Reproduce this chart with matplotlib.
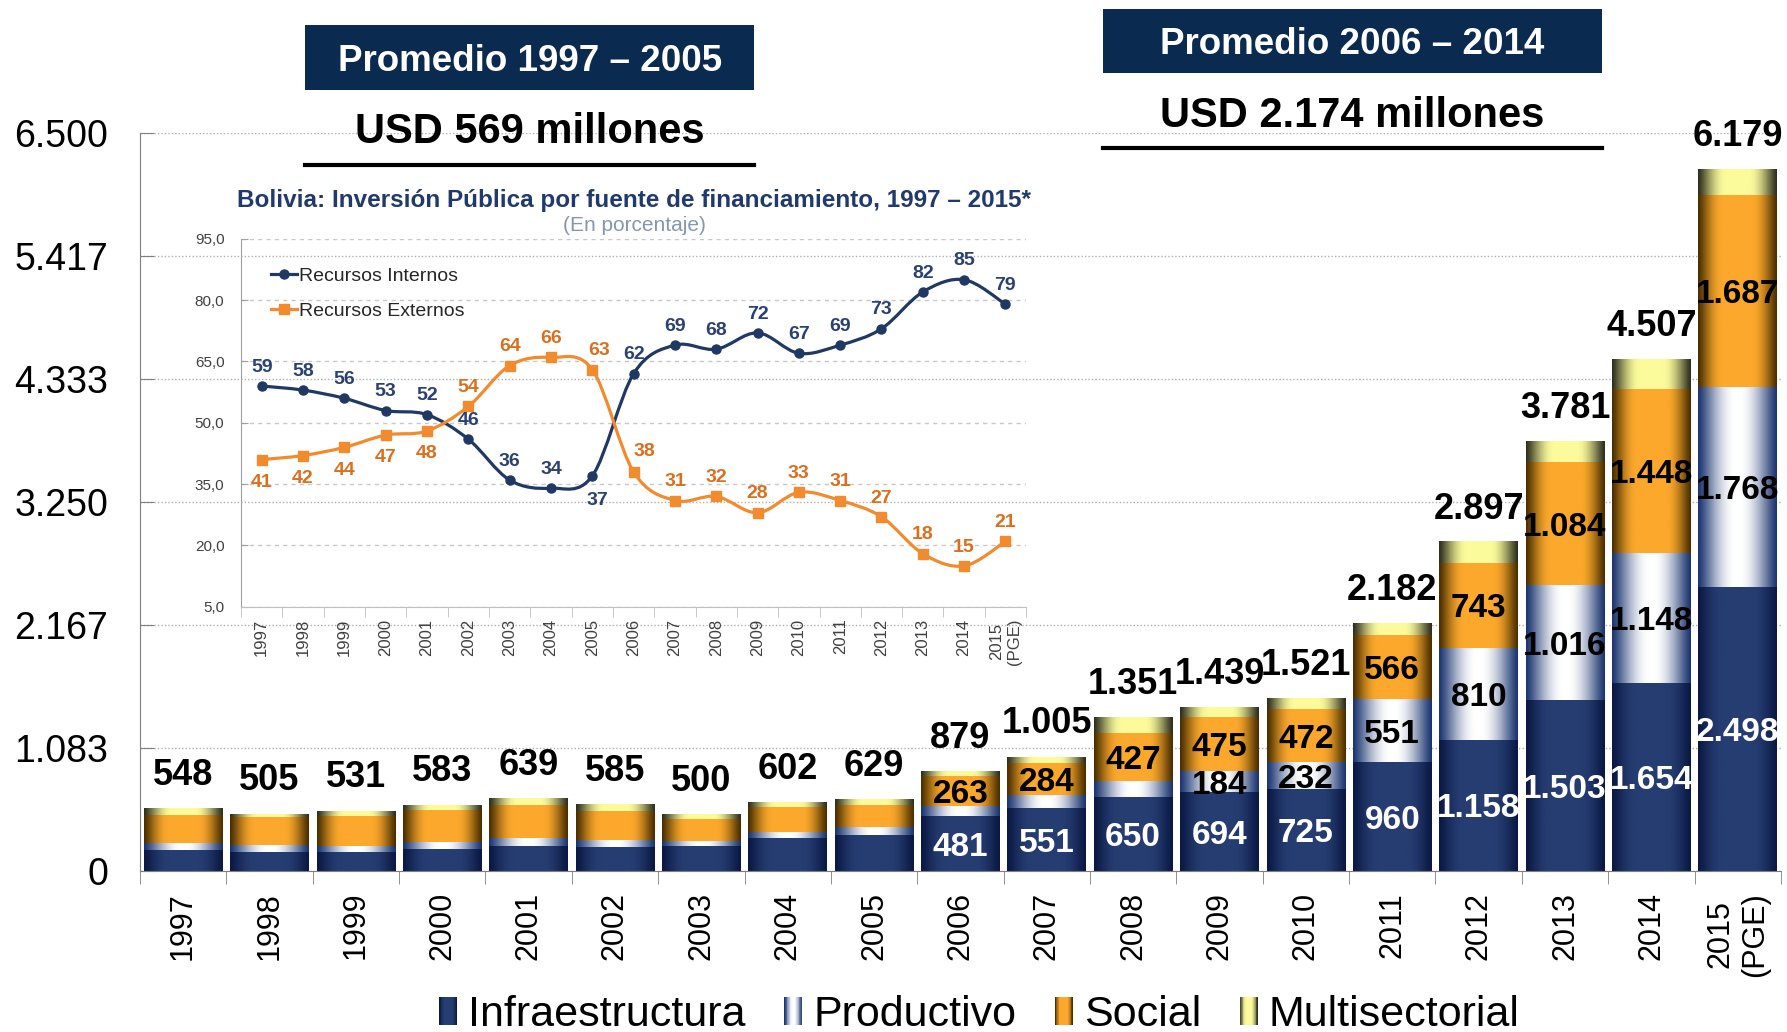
import numpy as np
import matplotlib
matplotlib.use('Agg')
import matplotlib.pyplot as plt
from matplotlib.patches import Rectangle, PathPatch
from matplotlib.path import Path
from matplotlib.colors import to_rgb
from matplotlib.legend_handler import HandlerBase
from matplotlib.lines import Line2D

plt.rcParams['font.family'] = ['Liberation Sans', 'DejaVu Sans']

# ---------------- data ----------------
years = ['1997', '1998', '1999', '2000', '2001', '2002', '2003', '2004', '2005',
         '2006', '2007', '2008', '2009', '2010', '2011', '2012', '2013', '2014',
         '2015\n(PGE)']
infra = [185, 168, 168, 194, 221, 212, 221, 291, 318, 481, 551, 650, 694, 725,
         960, 1158, 1503, 1654, 2498]
productivo = [62, 61, 53, 62, 70, 62, 44, 53, 70, 93, 120, 139, 184, 232, 551,
              810, 1016, 1148, 1768]
social = [247, 250, 267, 285, 292, 256, 194, 221, 195, 263, 284, 427, 475, 472,
          566, 743, 1084, 1448, 1687]
multi = [54, 26, 43, 42, 56, 55, 41, 37, 46, 42, 50, 135, 86, 92, 105, 186, 178,
         257, 226]
totals = [548, 505, 531, 583, 639, 585, 500, 602, 629, 879, 1005, 1351, 1439,
          1521, 2182, 2897, 3781, 4507, 6179]
# which segment values are printed (first year index with a label)
infra_label_from = 9
prod_label_from = 12
social_label_from = 9

ytick_vals = [0, 1083, 2167, 3250, 4333, 5417, 6500]
ytick_labels = ['0', '1.083', '2.167', '3.250', '4.333', '5.417', '6.500']

series_names = ['Infraestructura', 'Productivo', 'Social', 'Multisectorial']

# inset data
inset_years = years
internos = [59, 58, 56, 53, 52, 46, 36, 34, 37, 62, 69, 68, 72, 67, 69, 73, 82, 85, 79]
externos = [41, 42, 44, 47, 48, 54, 64, 66, 63, 38, 31, 32, 28, 33, 31, 27, 18, 15, 21]
inset_yticks = [5, 20, 35, 50, 65, 80, 95]
inset_ylabels = ['5,0', '20,0', '35,0', '50,0', '65,0', '80,0', '95,0']

# ---------------- styles ----------------
grad_cols = {
    'Infraestructura': ('#0A1842', '#263D72', 0.62),
    'Productivo': ('#1B3570', '#FFFFFF', 0.95),
    'Social': ('#4A2F00', '#FBA82C', 0.62),
    'Multisectorial': ('#2E2E1E', '#FBFB9C', 0.7),
}


def gradient(dark, light, plateau, n=128):
    t = np.linspace(0, 1, n)
    f = 1 - np.abs(2 * t - 1)
    f = np.clip(f / plateau, 0, 1)
    f = np.sin(f * np.pi / 2) ** 1.2
    d = np.array(to_rgb(dark))
    l = np.array(to_rgb(light))
    return d + (l - d) * f[:, None]


def fmt(v):
    return f"{v:,}".replace(',', '.')


W, H = 1787, 1032
fig = plt.figure(figsize=(W / 100, H / 100), dpi=100)

# ---------------- main axes ----------------
ax = fig.add_axes([0.0783, 0.156, 0.9183, 0.715])
x = np.arange(len(years))
bw = 0.91
bottoms = np.zeros(len(years))
stacks = [infra, productivo, social, multi]
for name, vals in zip(series_names, stacks):
    c = ax.bar(x, vals, bw, bottom=bottoms, color=grad_cols[name][1],
               edgecolor='none', zorder=2)
    g = gradient(*grad_cols[name])
    for p in c.patches:
        x0, y0 = p.get_xy()
        w, h = p.get_width(), p.get_height()
        ax.imshow(g[None, :, :], extent=(x0, x0 + w, y0, y0 + h), aspect='auto',
                  interpolation='bilinear', zorder=2.5)
    bottoms = bottoms + np.array(vals)


def seg_labels(vals, base, start, color):
    for i in range(start, len(vals)):
        ax.text(x[i], base[i] + vals[i] / 2, fmt(vals[i]), ha='center',
                va='center_baseline', fontsize=24, fontweight='bold', color=color,
                zorder=4)


base0 = np.zeros(len(years))
base1 = base0 + np.array(infra)
base2 = base1 + np.array(productivo)
seg_labels(infra, base0, infra_label_from, 'white')
seg_labels(productivo, base1, prod_label_from, 'black')
seg_labels(social, base2, social_label_from, 'black')

for i, t in enumerate(totals):
    ax.annotate(fmt(t), (x[i], t), xytext=(0, 17), textcoords='offset points',
                ha='center', va='baseline', fontsize=26, fontweight='bold',
                color='black', zorder=4)

ax.set_xlim(-0.5, len(years) - 0.5)
ax.set_ylim(0, 6500)
ax.set_yticks(ytick_vals)
ax.set_yticklabels(ytick_labels)
ax.set_xticks(x)
ax.set_xticklabels(years, rotation=90)
ax.set_xticks(np.arange(-0.5, len(years), 1), minor=True)
ax.tick_params(axis='x', which='major', length=0, pad=15, labelsize=22)
ax.tick_params(axis='x', which='minor', length=9, direction='out', color='#7F7F7F')
ax.tick_params(axis='y', direction='in', length=10, pad=23, labelsize=27,
               color='#7F7F7F')
ax.yaxis.grid(True, linestyle=(0, (1, 1.5)), color='#B0B0B0', linewidth=1)
ax.set_axisbelow(True)
for s in ['top', 'right']:
    ax.spines[s].set_visible(False)
ax.spines['left'].set_color('#7F7F7F')
ax.spines['bottom'].set_color('#7F7F7F')
ax.patch.set_alpha(0)


# ---------------- legend ----------------
class GradHandler(HandlerBase):
    def __init__(self, dark, light, plateau):
        super().__init__()
        self.cols = gradient(dark, light, plateau, 24)

    def create_artists(self, legend, orig_handle, xdescent, ydescent, width,
                       height, fontsize, trans):
        n = len(self.cols)
        arts = []
        for i, c in enumerate(self.cols):
            r = Rectangle((-xdescent + width * i / n, -ydescent), width / n * 1.08,
                          height, facecolor=c, edgecolor='none', transform=trans)
            arts.append(r)
        return arts


handles = [Rectangle((0, 0), 1, 1, label=n) for n in series_names]
hmap = {h: GradHandler(*grad_cols[n]) for h, n in zip(handles, series_names)}
fig.legend(handles, series_names, handler_map=hmap, loc='center',
           bbox_to_anchor=(0.548, 0.016), ncol=4, frameon=False, fontsize=31,
           handlelength=0.42, handleheight=0.62, handletextpad=0.25,
           columnspacing=0.9, borderpad=0)

# ---------------- header boxes ----------------
navy = '#0A2A4F'
fig.add_artist(Rectangle((0.1707, 0.9128), 0.2513, 0.063, transform=fig.transFigure,
                         facecolor=navy, edgecolor='none'))
fig.text(0.2966, 0.9438, 'Promedio 1997 – 2005', ha='center', va='center_baseline',
         color='white', fontsize=26.5, fontweight='bold')
fig.text(0.2966, 0.876, 'USD 569 millones', ha='center', va='center_baseline',
         color='black', fontsize=30, fontweight='bold')
fig.add_artist(Line2D([0.1707, 0.422], [0.840, 0.840], transform=fig.transFigure,
                      color='black', linewidth=3))

fig.add_artist(Rectangle((0.6172, 0.9293), 0.2792, 0.062, transform=fig.transFigure,
                         facecolor=navy, edgecolor='none'))
fig.text(0.7569, 0.9603, 'Promedio 2006 – 2014', ha='center', va='center_baseline',
         color='white', fontsize=26.5, fontweight='bold')
fig.text(0.7569, 0.8915, 'USD 2.174 millones', ha='center', va='center_baseline',
         color='black', fontsize=30, fontweight='bold')
fig.add_artist(Line2D([0.6172, 0.8964], [0.8566, 0.8566], transform=fig.transFigure,
                      color='black', linewidth=3))

# ---------------- inset ----------------
ax2 = fig.add_axes([0.1349, 0.412, 0.4393, 0.3566])
ax2.patch.set_alpha(0)
xi = np.arange(len(inset_years))


def smooth_path(xs, ys):
    pts = np.column_stack([xs, ys]).astype(float)
    n = len(pts)
    verts = [pts[0]]
    codes = [Path.MOVETO]
    for i in range(n - 1):
        p0 = pts[i - 1] if i > 0 else pts[i]
        p1 = pts[i]
        p2 = pts[i + 1]
        p3 = pts[i + 2] if i + 2 < n else pts[i + 1]
        verts += [p1 + (p2 - p0) / 6, p2 - (p3 - p1) / 6, p2]
        codes += [Path.CURVE4] * 3
    return Path(verts, codes)


c_int = '#1F3864'
c_ext = '#F28A2E'
c_int_lbl = '#2A4272'
c_ext_lbl = '#D9701F'
for vals, col, mk in [(internos, c_int, 'o'), (externos, c_ext, 's')]:
    ax2.add_patch(PathPatch(smooth_path(xi, vals), fill=False, edgecolor=col,
                            linewidth=2.3, zorder=3))
    ax2.plot(xi, vals, linestyle='none', marker=mk, color=col, markersize=6.5,
             zorder=4)

leg_int = Line2D([], [], color=c_int, marker='o', markersize=6.5, linewidth=2.3)
leg_ext = Line2D([], [], color=c_ext, marker='s', markersize=6.5, linewidth=2.3)
ax2.legend([leg_int, leg_ext], ['Recursos Internos', 'Recursos Externos'],
           loc='upper left', bbox_to_anchor=(0.038, 0.922), frameon=False,
           fontsize=14, handlelength=1.35, handletextpad=0.1, labelspacing=0.9,
           labelcolor='#262626', borderpad=0, borderaxespad=0)

# data labels
int_offsets = [(0, 15)] * len(internos)
int_offsets[8] = (4, -16)
ext_offsets = [(0, -15)] * 5 + [(0, 15)] * 3 + [(5, 15), (8, 16)] + [(0, 15)] * 9
for i, v in enumerate(internos):
    ax2.annotate(str(v), (xi[i], v), xytext=int_offsets[i], textcoords='offset points',
                 ha='center', va='center_baseline', fontsize=14, fontweight='bold',
                 color=c_int_lbl, zorder=5)
for i, v in enumerate(externos):
    ax2.annotate(str(v), (xi[i], v), xytext=ext_offsets[i], textcoords='offset points',
                 ha='center', va='center_baseline', fontsize=14, fontweight='bold',
                 color=c_ext_lbl, zorder=5)

ax2.set_xlim(-0.5, len(inset_years) - 0.5)
ax2.set_ylim(5, 95)
ax2.set_yticks(inset_yticks)
ax2.set_yticklabels(inset_ylabels)
ax2.set_xticks(xi)
ax2.set_xticklabels(inset_years, rotation=90)
ax2.set_xticks(np.arange(-0.5, len(inset_years), 1), minor=True)
ax2.tick_params(axis='x', which='major', length=0, pad=8.5, labelsize=12,
                labelcolor='#404040')
ax2.tick_params(axis='x', which='minor', length=7, direction='out', color='#BFBFBF')
ax2.tick_params(axis='y', length=5, direction='in', pad=12, labelsize=11,
                labelcolor='#404040', color='#A0A0A0')
ax2.yaxis.grid(True, linestyle=(0, (3, 3)), color='#C8C8C8', linewidth=1)
for s in ['top', 'right']:
    ax2.spines[s].set_visible(False)
ax2.spines['left'].set_color('#A0A0A0')
ax2.spines['bottom'].set_color('#BFBFBF')

fig.text(0.3548, 0.8081, 'Bolivia: Inversión Pública por fuente de financiamiento, 1997 – 2015*',
         ha='center', va='center_baseline', fontsize=17.5, fontweight='bold',
         color='#203A6C')
fig.text(0.3548, 0.7839, '(En porcentaje)', ha='center', va='center_baseline',
         fontsize=15, color='#8497B0')

fig.savefig('out.png', dpi=100)
